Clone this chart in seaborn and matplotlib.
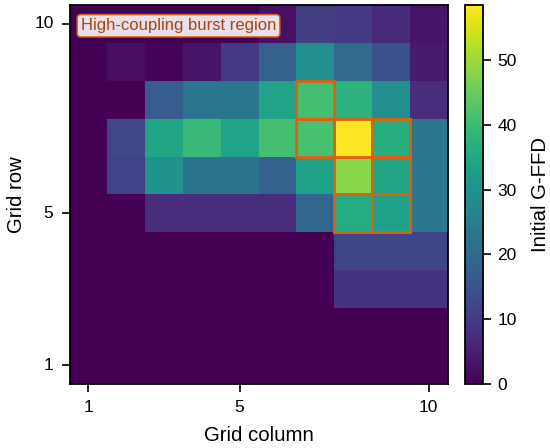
import numpy as np
import pandas as pd
import matplotlib
matplotlib.use("Agg")
import matplotlib.pyplot as plt
import seaborn as sns
from matplotlib.patches import Rectangle

sns.set_style("white")
plt.rcParams['font.family'] = ['Liberation Sans', 'DejaVu Sans']
plt.rcParams['text.color'] = 'black'
plt.rcParams['axes.labelcolor'] = 'black'
plt.rcParams['xtick.color'] = 'black'
plt.rcParams['ytick.color'] = 'black'

columns = list(range(1, 11))
rows = list(range(10, 0, -1))  # top to bottom

row10 = [0, 0, 0, 0, 0, 2.5, 10.5, 10, 7, 3]
row9 = [0, 2, 0.5, 3, 10, 18, 29, 20, 14.5, 4]
row8 = [0, 0, 17, 23, 23, 34, 41, 37.5, 29, 7.5]
row7 = [0, 12.5, 34.5, 39.5, 34, 41, 41.5, 58.5, 37, 23]
row6 = [0, 11.5, 30, 22.5, 22.5, 18, 33.5, 48, 34.5, 23]
row5 = [0, 0, 7.5, 7.5, 7.5, 7.5, 19, 36, 33.5, 23]
row4 = [0, 0, 0, 0, 0, 0, 0, 12, 12, 12]
row3 = [0, 0, 0, 0, 0, 0, 0, 8.5, 8.5, 8.5]
row2 = [0, 0, 0, 0, 0, 0, 0, 0, 0, 0]
row1 = [0, 0, 0, 0, 0, 0, 0, 0, 0, 0]

burst_rows = [8, 7, 7, 7, 6, 6, 5, 5]
burst_cols = [7, 7, 8, 9, 8, 9, 8, 9]

data = pd.DataFrame([row10, row9, row8, row7, row6, row5, row4, row3, row2, row1],
                    index=rows, columns=columns)

fig = plt.figure(figsize=(5.5, 4.48), dpi=100)
bottom = 1 - 384 / 448
height = (384 - 5) / 448
ax = fig.add_axes([69.5 / 550, bottom, 378 / 550, height])
cax = fig.add_axes([465 / 550, bottom, 18 / 550, height])

sns.heatmap(data, ax=ax, cmap="viridis", vmin=0, vmax=58.5, cbar_ax=cax,
            cbar_kws={"label": "Initial G-FFD"})

for r, c in zip(burst_rows, burst_cols):
    ax.add_patch(Rectangle((c - 1, 10 - r), 1, 1, fill=False,
                           edgecolor="#e06010", linewidth=2, zorder=3))

ax.set_xticks([0.5, 4.5, 9.5])
ax.set_xticklabels(["1", "5", "10"], rotation=0)
ax.set_yticks([0.5, 5.5, 9.5])
ax.set_yticklabels(["10", "5", "1"], rotation=0)
ax.tick_params(axis="both", which="major", length=5.5, width=1.2, direction="out",
               labelsize=12.5, color="black", labelcolor="black",
               bottom=True, left=True, pad=6)
ax.set_xlabel("Grid column", fontsize=14.7, labelpad=8, color="black")
ax.set_ylabel("Grid row", fontsize=14.7, labelpad=6, color="black")
for s in ax.spines.values():
    s.set_visible(True)
    s.set_color("black")
    s.set_linewidth(1.3)

ax.text(0.03, 0.965, "High-coupling burst region", transform=ax.transAxes,
        ha="left", va="top", fontsize=12, color="#a8460c",
        bbox=dict(boxstyle="round,pad=0.22", facecolor="white", alpha=0.88,
                  edgecolor="#d9600e", linewidth=1.2), zorder=5)

cbar = ax.collections[0].colorbar
cbar.set_ticks([0, 10, 20, 30, 40, 50])
cbar.ax.tick_params(labelsize=12.5, length=5.5, width=1.2, direction="out",
                    color="black", labelcolor="black", pad=5)
cbar.set_label("Initial G-FFD", fontsize=14.7, labelpad=10, color="black")
cbar.outline.set_visible(True)
cbar.outline.set_linewidth(1.3)
cbar.outline.set_edgecolor("black")

fig.savefig("out.png", dpi=100)
